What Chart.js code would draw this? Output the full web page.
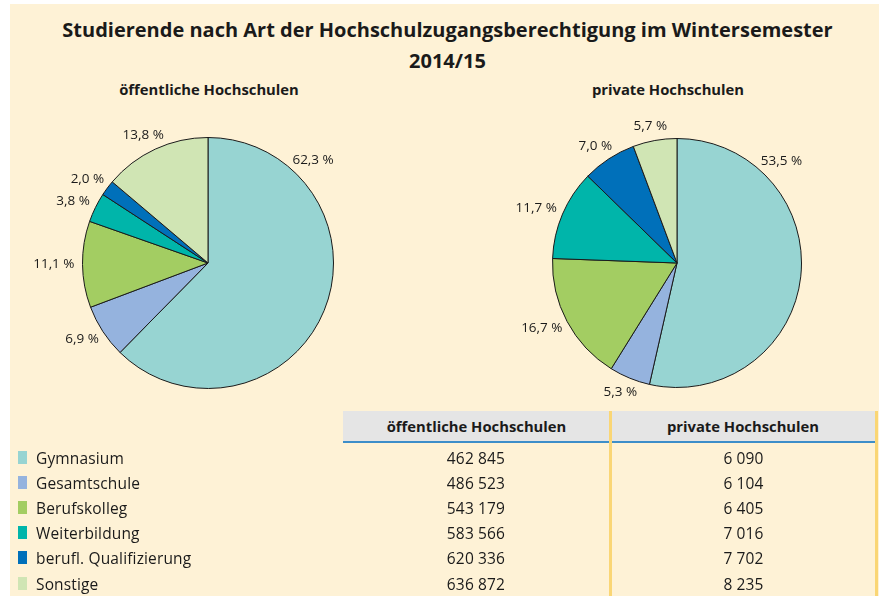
<!DOCTYPE html>
<html>
<head>
<meta charset="utf-8">
<script src="https://cdn.jsdelivr.net/npm/chart.js@4.4.1/dist/chart.umd.min.js"></script>
<style>
  body { margin: 0; background: #fff; font-family: "Open Sans", sans-serif; color: #1a1a1a; }
  #panel { position: absolute; left: 10px; top: 4px; width: 869px; height: 592px; background: #fef2d6; }
  .abs { position: absolute; white-space: nowrap; }
  #title { left: 0; width: 895px; top: 14px; text-align: center; font-weight: bold; font-size: 20px; line-height: 31px; }
  .sub { top: 79px; width: 300px; text-align: center; font-weight: bold; font-size: 14.8px; }
  canvas { position: absolute; }
  .hdr { top: 411px; height: 30px; background: #e5e5e5; border-bottom: 2px solid #3d8ec9;
         font-weight: bold; font-size: 14.8px; line-height: 30px; text-align: center; }
  .vline { top: 411px; height: 185px; width: 3px; background: #fad675; }
  .cell { font-size: 15.5px; letter-spacing: .15px; line-height: 25px; }
  .sq { width: 9px; height: 13px; }
</style>
</head>
<body>
<div id="panel"></div>
<div id="title" class="abs">Studierende nach Art der Hochschulzugangsberechtigung im Wintersemester<br>2014/15</div>
<div class="abs sub" style="left:59px">öffentliche Hochschulen</div>
<div class="abs sub" style="left:518px">private Hochschulen</div>
<canvas id="pieOeff" width="420" height="300" style="left:-2px; top:113px"></canvas>
<canvas id="piePriv" width="400" height="300" style="left:477px; top:113px"></canvas>
<div id="table"></div>
<script>
// Anteile in Prozent (Kreisdiagramme)
const categories = ["Gymnasium", "Gesamtschule", "Berufskolleg", "Weiterbildung", "berufl. Qualifizierung", "Sonstige"];
const shareOeffentlich = [62.3, 6.9, 11.1, 3.8, 2.0, 13.8];
const sharePrivat = [53.5, 5.3, 16.7, 11.7, 7.0, 5.7];

// Tabellenwerte
const columnTitles = ["öffentliche Hochschulen", "private Hochschulen"];
const countOeffentlich = [462845, 486523, 543179, 583566, 620336, 636872];
const countPrivat = [6090, 6104, 6405, 7016, 7702, 8235];

const colors = ["#97d4d2", "#95b3de", "#a3cd62", "#00b5aa", "#0070ba", "#d0e5b4"];

function pct(v) { return v.toFixed(1).replace(".", ",") + " %"; }
function num(v) { return String(v).replace(/\B(?=(\d{3})+(?!\d))/g, " "); }

// Prozentwerte außen an die Segmente schreiben
const outerLabels = {
  id: "outerLabels",
  afterDatasetsDraw(chart) {
    const ctx = chart.ctx;
    const values = chart.data.datasets[0].data;
    ctx.save();
    ctx.font = '13.5px "Open Sans"';
    ctx.fillStyle = "#1a1a1a";
    ctx.textAlign = "center";
    ctx.textBaseline = "middle";
    chart.getDatasetMeta(0).data.forEach((arc, i) => {
      const p = arc.getProps(["x", "y", "startAngle", "endAngle", "outerRadius"], true);
      let a = (p.startAngle + p.endAngle) / 2;
      if (values[i] > 50) a = p.startAngle + 0.75;
      const txt = pct(values[i]);
      const w = ctx.measureText(txt).width;
      const d = p.outerRadius + 8;
      const cx = p.x + Math.cos(a) * d + Math.cos(a) * w / 2;
      const cy = p.y + Math.sin(a) * d + Math.sin(a) * 7;
      ctx.fillText(txt, cx, cy);
    });
    ctx.restore();
  }
};

function makePie(id, data, pad) {
  new Chart(document.getElementById(id), {
    type: "pie",
    data: {
      labels: categories,
      datasets: [{ data: data, backgroundColor: colors, borderColor: "#1a1a1a", borderWidth: 1 }]
    },
    options: {
      responsive: false,
      animation: false,
      layout: { padding: pad },
      plugins: { legend: { display: false }, tooltip: { enabled: false } }
    },
    plugins: [outerLabels]
  });
}

makePie("pieOeff", shareOeffentlich, 24);
makePie("piePriv", sharePrivat, 25);

// Tabelle mit Legende
const table = document.getElementById("table");
function add(cls, style, text) {
  const el = document.createElement("div");
  el.className = "abs " + cls;
  el.style.cssText = style;
  if (text !== undefined) el.textContent = text;
  table.appendChild(el);
}
add("hdr", "left:343px; width:267px", columnTitles[0]);
add("hdr", "left:610px; width:266px", columnTitles[1]);
add("vline", "left:609px");
add("vline", "left:875px");
categories.forEach((c, i) => {
  const top = 445.5 + i * 25.2;
  add("sq", `left:18px; top:${top + 5}px; background:${colors[i]}`);
  add("cell", `left:36px; top:${top}px`, c);
  add("cell", `left:343px; width:266px; text-align:center; top:${top}px`, num(countOeffentlich[i]));
  add("cell", `left:612px; width:263px; text-align:center; top:${top}px`, num(countPrivat[i]));
});
</script>
</body>
</html>
